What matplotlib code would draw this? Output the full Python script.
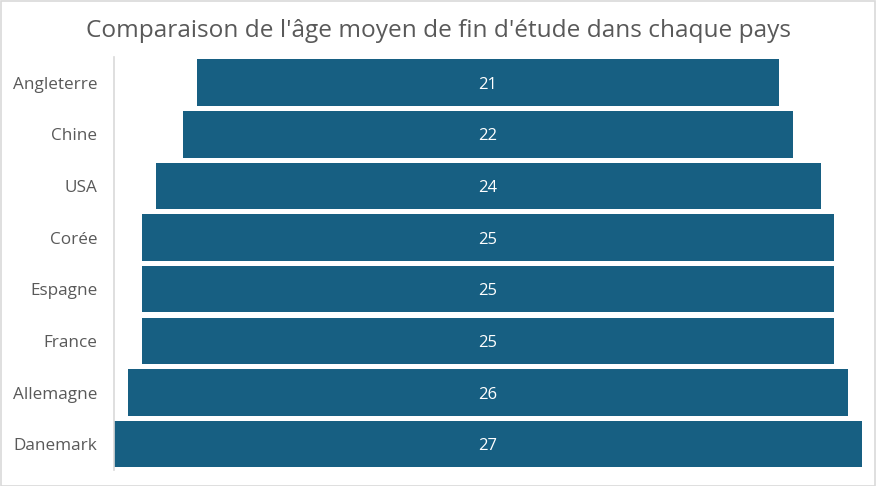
import matplotlib.pyplot as plt
import numpy as np

pays = ["Angleterre", "Chine", "USA", "Corée", "Espagne", "France", "Allemagne", "Danemark"]
ages = [21, 22, 24, 25, 25, 25, 26, 27]

bar_color = "#175F82"
text_color = "#595959"

fig = plt.figure(figsize=(8.77, 4.86), dpi=100)
ax = fig.add_axes([0.130, 0.033, 0.853, 0.850])

ages_arr = np.array(ages)
ypos = np.arange(len(pays))[::-1]
ax.barh(ypos, ages_arr, left=-ages_arr / 2, height=0.9, color=bar_color)

for y, v in zip(ypos, ages):
    ax.text(0, y - 0.04, str(v), ha="center", va="center", color="white",
            fontsize=12, family="Open Sans")

ax.set_xlim(-max(ages) / 2, max(ages) / 2)
ax.set_ylim(-0.5, len(pays) - 0.5)
ax.set_yticks(ypos)
ax.set_yticklabels(pays, fontsize=12.3, color=text_color, family="Open Sans")
for lbl in ax.get_yticklabels():
    lbl.set_y(lbl.get_position()[1])
ax.tick_params(axis="y", length=0, pad=12)
ax.set_xticks([])

for s in ["top", "right", "bottom"]:
    ax.spines[s].set_visible(False)
ax.spines["left"].set_color("#D9D9D9")
ax.spines["left"].set_linewidth(1.2)

fig.text(0.5, 0.937, "Comparaison de l'âge moyen de fin d'étude dans chaque pays",
         ha="center", va="center", fontsize=17.6, color=text_color, family="Open Sans")

# light border around the chart
fig.patches.append(plt.Rectangle((0.001, 0.001), 0.997, 0.996, transform=fig.transFigure,
                                 fill=False, edgecolor="#D9D9D9", linewidth=1.2))

fig.savefig("out.png", dpi=100)
